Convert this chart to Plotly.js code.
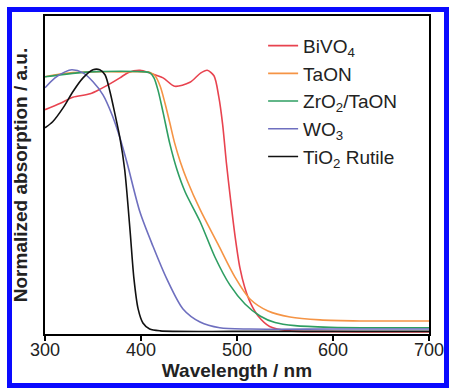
<!DOCTYPE html>
<html>
<head>
<meta charset="utf-8">
<script src="https://cdn.plot.ly/plotly-3.0.1.min.js"></script>
<style>
html,body{margin:0;padding:0;background:#fff;width:449px;height:388px;overflow:hidden;}
#frame{position:absolute;left:7px;top:7px;width:432px;height:371px;border:5px solid #0a0aff;}
#chart{position:absolute;left:0;top:0;width:449px;height:388px;}
</style>
</head>
<body>
<div id="frame"></div>
<div id="chart"></div>
<script>
// Wavelength (nm) and normalized absorption values
const bivo4_x = [300, 316, 329, 347, 358, 368, 378, 387, 399, 409, 423, 435, 451, 462, 469, 476, 481, 485, 489, 493, 498, 503, 508, 514, 522, 534, 555, 600, 650, 700];
const bivo4_y = [0.855, 0.880, 0.903, 0.916, 0.935, 0.955, 0.977, 0.998, 1.006, 0.996, 0.977, 0.945, 0.960, 0.995, 1.006, 0.985, 0.905, 0.800, 0.650, 0.520, 0.370, 0.250, 0.175, 0.115, 0.065, 0.025, 0.008, 0.005, 0.004, 0.004];

const taon_x = [300, 315.6, 347, 378, 405, 409.4, 414.6, 420, 425, 430, 435, 441, 448, 461.5, 480.2, 497.9, 513.5, 532.3, 555.2, 586.5, 628, 700];
const taon_y = [0.981, 0.992, 1.0, 1.0, 1.0, 0.998, 0.985, 0.945, 0.880, 0.805, 0.728, 0.655, 0.585, 0.473, 0.340, 0.214, 0.130, 0.084, 0.061, 0.050, 0.046, 0.046];

const zro2_x = [300, 347, 405, 409.4, 413.5, 417.7, 423, 430, 437.5, 446, 461.5, 477.1, 492.7, 508.3, 524, 539.6, 560.4, 596.9, 650, 700];
const zro2_y = [0.981, 1.0, 1.0, 0.996, 0.977, 0.930, 0.845, 0.725, 0.625, 0.540, 0.427, 0.290, 0.183, 0.111, 0.065, 0.040, 0.028, 0.022, 0.020, 0.020];

const wo3_x = [300, 310.4, 320.8, 328, 339.6, 350, 360.4, 369.8, 378, 385.4, 399, 412.5, 427, 443.75, 461.5, 482, 513.5, 600, 700];
const wo3_y = [0.939, 0.977, 1.0, 1.008, 0.996, 0.962, 0.912, 0.836, 0.748, 0.653, 0.462, 0.332, 0.206, 0.092, 0.042, 0.020, 0.015, 0.015, 0.015];

const tio2_x = [300, 308, 319, 329, 339.6, 350, 357, 362.5, 367.7, 373, 378, 383, 388.5, 392.7, 397, 402, 409, 420, 500, 700];
const tio2_y = [0.786, 0.809, 0.863, 0.924, 0.977, 1.008, 1.008, 0.989, 0.924, 0.836, 0.748, 0.626, 0.397, 0.206, 0.092, 0.038, 0.015, 0.008, 0.006, 0.006];

const names = ['BiVO<sub>4</sub>', 'TaON', 'ZrO<sub>2</sub>/TaON', 'WO<sub>3</sub>', 'TiO<sub>2</sub> Rutile'];
const colors = ['#e8434f', '#f59445', '#2e9e62', '#6e6fbf', '#111111'];
const xTicks = [300, 400, 500, 600, 700];

const series = [[bivo4_x, bivo4_y], [taon_x, taon_y], [zro2_x, zro2_y], [wo3_x, wo3_y], [tio2_x, tio2_y]];
const traces = series.map((s, i) => ({
  x: s[0], y: s[1], name: names[i], type: 'scatter', mode: 'lines',
  line: {color: colors[i], width: 1.6, shape: 'spline', smoothing: 0.8}
}));

const font = 'Arial, "Liberation Sans", sans-serif';
const layout = {
  width: 449, height: 388,
  margin: {l: 45, r: 20, t: 16, b: 54},
  paper_bgcolor: 'rgba(0,0,0,0)', plot_bgcolor: 'rgba(0,0,0,0)',
  font: {family: font, color: '#222', size: 19},
  showlegend: true,
  legend: {x: 0.568, y: 0.966, xanchor: 'left', yanchor: 'top', bgcolor: 'rgba(0,0,0,0)',
           font: {family: font, size: 19, color: '#222'}},
  xaxis: {range: [300, 700], tickvals: xTicks, ticktext: xTicks.map(String),
          ticks: 'outside', ticklen: 5, tickwidth: 2, tickcolor: '#000',
          ticklabelstandoff: -7,
          showline: true, linecolor: '#000', linewidth: 2, mirror: true,
          showgrid: false, zeroline: false,
          tickfont: {family: font, size: 18, color: '#222'},
          title: {text: '<b>Wavelength / nm</b>', font: {family: font, size: 19, color: '#222'}, standoff: 3}},
  yaxis: {range: [-0.004, 1.214], showticklabels: false, ticks: '',
          showline: true, linecolor: '#000', linewidth: 2, mirror: true,
          showgrid: false, zeroline: false,
          title: {text: '<b>Normalized absorption / a.u.</b>', font: {family: font, size: 19, color: '#222'}, standoff: 10}}
};

Plotly.newPlot('chart', traces, layout, {displayModeBar: false, staticPlot: true});
</script>
</body>
</html>
